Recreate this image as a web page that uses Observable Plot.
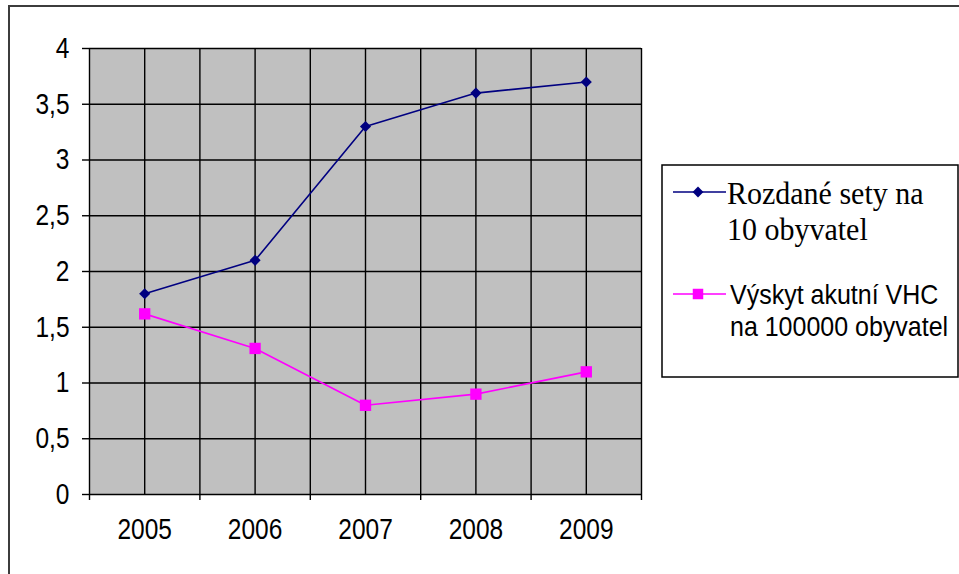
<!DOCTYPE html>
<html>
<head>
<meta charset="utf-8">
<script src="https://cdn.jsdelivr.net/npm/d3@7"></script>
<script src="https://cdn.jsdelivr.net/npm/@observablehq/plot@0.6"></script>
<style>
  html, body { margin: 0; padding: 0; background: #fff; }
  #wrap { position: relative; width: 959px; height: 574px; overflow: hidden; }
  #border { position: absolute; left: 8px; top: 5px; width: 960px; height: 580px;
            border-top: 2px solid #3c3c3c; border-left: 2px solid #3c3c3c; box-sizing: border-box; }
  #chart, #legend { position: absolute; left: 0; top: 0; }
</style>
</head>
<body>
<div id="wrap">
  <div id="border"></div>
  <div id="chart"></div>
  <svg id="legend" width="959" height="574"></svg>
</div>
<script>
// ---- data ----
const years = [2005, 2006, 2007, 2008, 2009];
const rozdaneSety = [1.8, 2.1, 3.3, 3.6, 3.7];
const vyskytVHC = [1.62, 1.31, 0.8, 0.9, 1.1];
const seriesNames = ["Rozdané sety na 10 obyvatel", "Výskyt akutní VHC na 100000 obyvatel"];
const legendLines = [["Rozdané sety na", "10 obyvatel"], ["Výskyt akutní VHC", "na 100000 obyvatel"]];
const seriesColors = ["#000080", "#ff00ff"];
const yTicks = [0, 0.5, 1, 1.5, 2, 2.5, 3, 3.5, 4];
const xBoundaries = [2004.5, 2005.5, 2006.5, 2007.5, 2008.5, 2009.5];

const rows = [];
years.forEach((yr, i) => {
  rows.push({year: yr, value: rozdaneSety[i], series: seriesNames[0]});
  rows.push({year: yr, value: vyskytVHC[i], series: seriesNames[1]});
});
const s0 = rows.filter(d => d.series === seriesNames[0]);
const s1 = rows.filter(d => d.series === seriesNames[1]);

const gridXVals = d3.range(2005, 2009.51, 0.5);

const chart = Plot.plot({
  width: 959,
  height: 574,
  marginLeft: 89,
  marginRight: 318,
  marginTop: 48,
  marginBottom: 80,
  x: {domain: [2004.5, 2009.5]},
  y: {domain: [0, 4]},
  style: {fontFamily: "'Liberation Sans', Arial, sans-serif", fontSize: "24.5px", color: "#000", background: "transparent"},
  marks: [
    Plot.frame({fill: "#c0c0c0", stroke: "#8c8c8c"}),
    Plot.gridY(yTicks.slice(1), {stroke: "#000", strokeOpacity: 1, strokeWidth: 1.4}),
    Plot.gridX(gridXVals, {stroke: "#000", strokeOpacity: 1, strokeWidth: 1.4}),
    Plot.ruleX([2004.5], {stroke: "#000", strokeWidth: 1.4}),
    Plot.ruleY([0], {stroke: "#000", strokeWidth: 1.4}),
    Plot.axisY(yTicks, {tickSize: 7, tickPadding: 13, tickFormat: d => String(d).replace(".", ","), label: null, strokeWidth: 1.4}),
    Plot.axisX(xBoundaries, {tickSize: 6, tickFormat: () => "", label: null, strokeWidth: 1.4}),
    Plot.axisX(years, {tickSize: 0, tickPadding: 26, tickFormat: d => String(d), label: null}),
    Plot.line(s0, {x: "year", y: "value", stroke: seriesColors[0], strokeWidth: 1.6}),
    Plot.line(s1, {x: "year", y: "value", stroke: seriesColors[1], strokeWidth: 1.6}),
    Plot.dot(s0, {x: "year", y: "value", symbol: "diamond2", r: 5.0, fill: seriesColors[0], stroke: "none"}),
    Plot.dot(s1, {x: "year", y: "value", symbol: "square", r: 6.4, fill: seriesColors[1], stroke: "none"})
  ]
});
document.getElementById("chart").appendChild(chart);

// stretch text vertically about its own centre (reference glyphs are taller than wide)
function stretchY(el, k) {
  const b = el.getBBox();
  const cy = b.y + b.height / 2;
  const t = el.getAttribute("transform") || "";
  el.setAttribute("transform", `${t} translate(0,${cy}) scale(1,${k}) translate(0,${-cy})`);
}
chart.querySelectorAll('g[aria-label$="tick label"] text').forEach(el => stretchY(el, 1.18));

// ---- legend ----
const lg = d3.select("#legend");
lg.append("rect").attr("x", 662).attr("y", 165).attr("width", 296).attr("height", 212)
  .attr("fill", "#fff").attr("stroke", "#000").attr("stroke-width", 1.5);
const entries = [
  {lineY: 192, textX: 727, baselines: [203, 239], font: "'Liberation Serif', 'Times New Roman', serif", size: 30, k: 1.05, sym: d3.symbolDiamond2, symSize: 75},
  {lineY: 294, textX: 730, baselines: [303, 335], font: "'Liberation Sans', Arial, sans-serif", size: 25, k: 1.1, sym: d3.symbolSquare, symSize: 110}
];
entries.forEach((e, i) => {
  lg.append("line").attr("x1", 673).attr("x2", 726).attr("y1", e.lineY).attr("y2", e.lineY)
    .attr("stroke", seriesColors[i]).attr("stroke-width", 1.6);
  lg.append("path").attr("d", d3.symbol(e.sym, e.symSize)()).attr("transform", `translate(698,${e.lineY})`)
    .attr("fill", seriesColors[i]);
  legendLines[i].forEach((t, j) => {
    const txt = lg.append("text").attr("x", e.textX).attr("y", e.baselines[j]).attr("font-family", e.font)
      .attr("font-size", e.size).attr("fill", "#000").text(t);
    stretchY(txt.node(), e.k);
  });
});
</script>
</body>
</html>
